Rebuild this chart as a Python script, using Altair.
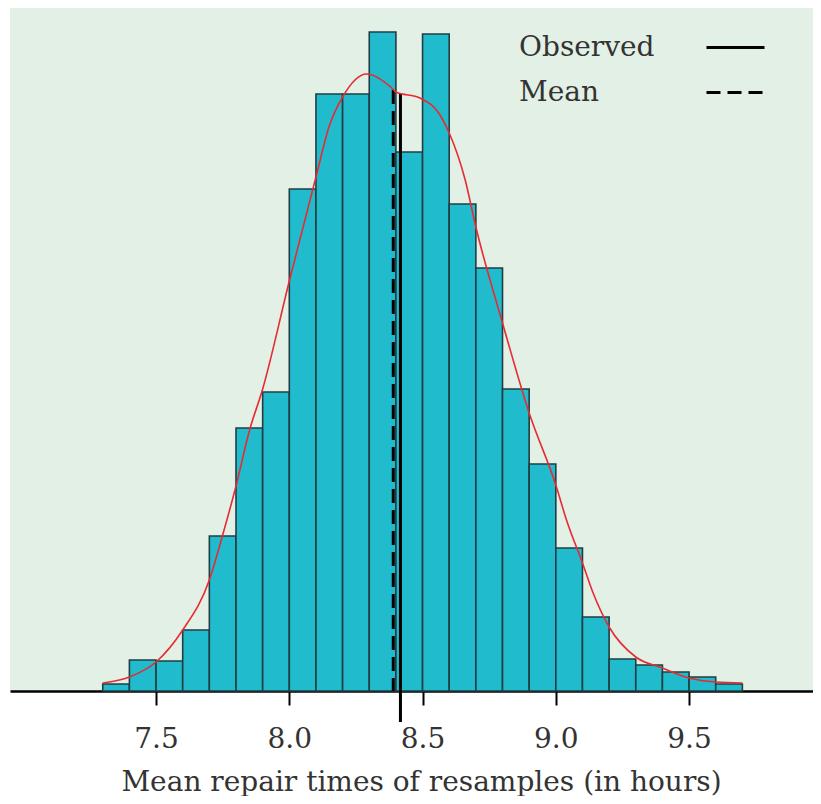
import altair as alt
import pandas as pd

# Histogram of bootstrap means (bin edges, relative heights)
bin_starts = [7.3, 7.4, 7.5, 7.6, 7.7, 7.8, 7.9, 8.0, 8.1, 8.2, 8.3, 8.4,
              8.5, 8.6, 8.7, 8.8, 8.9, 9.0, 9.1, 9.2, 9.3, 9.4, 9.5, 9.6]
bin_width = 0.1
counts = [7, 31, 30, 61, 155, 263, 299, 502, 597, 597, 659, 539,
          657, 487, 423, 302, 227, 143, 74, 32, 26, 19, 14, 7]

# Density curve (same relative units)
curve_x = [7.30, 7.40, 7.50, 7.60, 7.70, 7.75, 7.80, 7.85, 7.90, 8.00,
           8.10, 8.15, 8.20, 8.29, 8.38, 8.40, 8.49, 8.57, 8.60, 8.66, 8.70,
           8.80, 8.90, 9.00, 9.04, 9.10, 9.14, 9.20, 9.30, 9.40, 9.50, 9.60, 9.70]
curve_y = [8, 14, 29, 61, 111, 156, 205, 260, 302, 410,
           514, 565, 594, 617, 604, 599, 593, 574, 558, 511, 464,
           368, 278, 206, 171, 128, 98, 64, 34, 23, 13, 9, 8]

# Reference lines
line_types = ["Observed", "Mean"]
line_x = [8.417, 8.390]
line_top = [597, 601]
line_bottom = [-31, 0]

tick_values = [7.5, 8.0, 8.5, 9.0, 9.5]
x_domain = [6.952, 9.965]
y_domain = [0, 683]

bars = pd.DataFrame({"start": bin_starts,
                     "end": [round(s + bin_width, 2) for s in bin_starts],
                     "count": counts})
curve = pd.DataFrame({"x": curve_x, "y": curve_y})
lines = pd.DataFrame({"type": line_types, "x": line_x,
                      "y1": line_top, "y2": line_bottom})

FONT = "DejaVu Serif"

xscale = alt.Scale(domain=x_domain, nice=False, zero=False)
yscale = alt.Scale(domain=y_domain, nice=False, zero=False)

xaxis = alt.Axis(values=tick_values, format=".1f", grid=False,
                 title="Mean repair times of resamples (in hours)",
                 domainColor="black", domainWidth=2.5,
                 tickColor="black", tickWidth=2, tickSize=14,
                 labelFont=FONT, labelFontSize=28, labelColor="#333333",
                 labelPadding=20,
                 titleFont=FONT, titleFontSize=28, titleFontWeight="normal",
                 titleColor="#333333", titlePadding=15,
                 titleX=411, titleAlign="center", titleAnchor="start")

bar_layer = alt.Chart(bars).mark_bar(
    color="#20bccd", stroke="#233c41", strokeWidth=1.6, opacity=1
).encode(
    x=alt.X("start:Q", scale=xscale, axis=xaxis),
    x2="end:Q",
    y=alt.Y("count:Q", scale=yscale, axis=None),
    y2=alt.datum(0),
)

rule_layer = alt.Chart(lines).mark_rule(color="black", strokeWidth=3).encode(
    x=alt.X("x:Q", scale=xscale),
    y=alt.Y("y1:Q", scale=yscale),
    y2="y2:Q",
    strokeDash=alt.StrokeDash(
        "type:N",
        scale=alt.Scale(domain=line_types, range=[[1, 0], [14, 7]]),
        legend=alt.Legend(
            title=None, orient="none", legendX=695, legendY=9,
            symbolType="stroke", symbolSize=3364, symbolStrokeWidth=3,
            symbolStrokeColor="black", padding=0, rowPadding=0,
            labelFont=FONT, labelFontSize=28, labelColor="#333333",
            labelAlign="left", labelOffset={"expr": "-247"}, labelLimit=400,
        ),
    ),
)

curve_layer = alt.Chart(curve).mark_line(
    color="#e82a32", strokeWidth=1.6, interpolate="monotone"
).encode(
    x=alt.X("x:Q", scale=xscale),
    y=alt.Y("y:Q", scale=yscale),
)

chart = alt.layer(bar_layer, rule_layer, curve_layer).properties(
    width=803, height=683,
    padding={"left": 2, "top": 0, "right": 0, "bottom": 0},
    background="white",
).configure_view(
    fill="#e3f0e5", stroke=None
)

chart.save("out.html", embed_options={"renderer": "svg", "actions": False})
